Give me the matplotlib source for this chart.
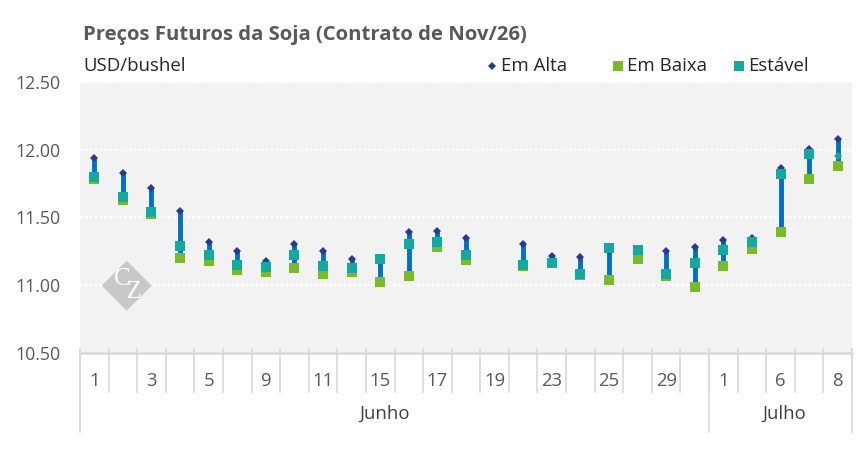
import matplotlib
matplotlib.use("Agg")
import matplotlib.pyplot as plt
import matplotlib.transforms as mtransforms
from matplotlib.lines import Line2D
from matplotlib.patches import Polygon
import numpy as np

plt.rcParams['font.family'] = ['Open Sans', 'DejaVu Sans']

# ---------------- data ----------------
days = [1, 2, 3, 4, 5, 8, 9, 10, 11, 12, 15, 16, 17, 18, 19, 22, 23, 24, 25, 26, 29, 30,
        1, 2, 6, 7, 8]
months = ["Junho", "Julho"]
month_counts = [22, 5]

em_alta = [11.94, 11.83, 11.72, 11.55, 11.32, 11.25, 11.18, 11.30, 11.25, 11.19,
           11.19, 11.39, 11.40, 11.345, np.nan, 11.305, 11.215, 11.21, 11.25, 11.27,
           11.25, 11.28, 11.33, 11.345, 11.865, 12.005, 12.075]
em_baixa = [11.78, 11.63, 11.525, 11.20, 11.175, 11.11, 11.10, 11.13, 11.08, 11.095,
            11.02, 11.07, 11.285, 11.185, np.nan, 11.14, 11.16, 11.075, 11.04, 11.19,
            11.065, 10.985, 11.14, 11.265, 11.395, 11.785, 11.88]
estavel = [11.80, 11.65, 11.54, 11.29, 11.22, 11.15, 11.135, 11.225, 11.145, 11.13,
           11.19, 11.30, 11.32, 11.225, np.nan, 11.15, 11.165, 11.085, 11.275, 11.26,
           11.085, 11.165, 11.26, 11.315, 11.82, 11.965, 11.95]

yticks = [10.5, 11.0, 11.5, 12.0, 12.5]

title = "Preços Futuros da Soja (Contrato de Nov/26)"
unit = "USD/bushel"
series_names = ["Em Alta", "Em Baixa", "Estável"]

# ---------------- styling ----------------
C_BAR = "#0070C0"
C_HIGH = "#2B3990"
C_LOW = "#7AB929"
C_CLOSE = "#14A89E"
C_TXT = "#595959"
C_AX = "#D9D9D9"

W, H = 868, 449
fig = plt.figure(figsize=(W / 100, H / 100), dpi=100)
fig.patch.set_facecolor("white")

def fx(px):
    return px / W

def fy(py):
    return 1 - py / H

left, right, top, bottom = 80, 852, 81.7, 353
ax = fig.add_axes([fx(left), fy(bottom), (right - left) / W, (bottom - top) / H])
ax.set_facecolor("#F2F2F2")

n = len(days)
x = np.arange(n)
hi = np.array(em_alta, dtype=float)
lo = np.array(em_baixa, dtype=float)
cl = np.array(estavel, dtype=float)

ax.set_xlim(-0.5, n - 0.5)
ax.set_ylim(yticks[0], yticks[-1])

# gridlines
for yv in yticks[1:]:
    ax.axhline(yv, color="white", lw=1.6, ls=(0, (1.2, 1.0)), zorder=1)

# watermark logo (pixel coords)
cx, cy, r = 126.7, 285.7, 25
poly = Polygon([(fx(cx - r), fy(cy)), (fx(cx), fy(cy - r)), (fx(cx + r), fy(cy)), (fx(cx), fy(cy + r))],
               closed=True, transform=fig.transFigure, facecolor="#C8C8C8", edgecolor="none", zorder=2)
ax.add_artist(poly)
ax.text(fx(cx + 1), fy(cy), "C\n  Z", transform=fig.transFigure, ha="center", va="center",
        fontsize=18, color="white", family="Liberation Serif", linespacing=0.5,
        multialignment="left", zorder=3)

# high-low bars
valid = ~np.isnan(hi)
top_v = np.fmax(hi, cl)
ax.vlines(x[valid], lo[valid], top_v[valid], color=C_BAR, lw=3.5, zorder=4)

# markers
ax.plot(x, hi, ls="none", marker="D", ms=4.2, color=C_HIGH, mew=0, zorder=5)
ax.plot(x, lo, ls="none", marker="s", ms=7.2, color=C_LOW, mew=0, zorder=6)
ax.plot(x[:-1], cl[:-1], ls="none", marker="s", ms=7.2, color=C_CLOSE, mew=0, zorder=7)
ax.plot(x[-1:], cl[-1:], ls="none", marker="D", ms=4.2, color=C_CLOSE, mew=0, zorder=7)

# axes styling
for s in ["top", "right", "left"]:
    ax.spines[s].set_visible(False)
ax.spines["bottom"].set_color(C_AX)
ax.spines["bottom"].set_linewidth(1.8)
ax.spines["bottom"].set_zorder(8)
ax.set_xticks([])
ax.set_yticks(yticks)
ax.set_yticklabels([f"{v:.2f}" for v in yticks])
ax.tick_params(axis="y", length=0, pad=14, labelsize=12.8, labelcolor=C_TXT)

# category axis (two-level)
trans = mtransforms.blended_transform_factory(ax.transData, ax.transAxes)
ph = bottom - top
def ay(py):
    return (bottom - py) / ph

for b in np.arange(-0.5, n, 1.0):
    ax.plot([b, b], [ay(349), ay(392)], color=C_AX, lw=1.2, transform=trans, clip_on=False, zorder=8)
bounds = np.concatenate([[0], np.cumsum(month_counts)]) - 0.5
for b in bounds:
    ax.plot([b, b], [ay(349), ay(432)], color=C_AX, lw=1.2, transform=trans, clip_on=False, zorder=8)

for i, d in enumerate(days):
    if i % 2 == 0:
        ax.text(i, ay(381), str(d), transform=trans, ha="center", va="center",
                fontsize=13.3, color=C_TXT)
month_shift = [-0.33, 0.14]   # label offset from group centre, in categories
for k, m in enumerate(months):
    ax.text((bounds[k] + bounds[k + 1]) / 2 + month_shift[k], ay(414), m, transform=trans,
            ha="center", va="center", fontsize=13.3, color="#404040")

# titles
fig.text(fx(83), fy(35), title, fontsize=14.6, fontweight="bold", color=C_TXT, va="center", ha="left")
fig.text(fx(83), fy(66), unit, fontsize=13.4, color="#262626", va="center", ha="left")

# legend (manual placement)
leg_y = 66
leg_items = [
    (492, "D", 3.8, C_HIGH),
    (618, "s", 6.8, C_LOW),
    (739, "s", 6.8, C_CLOSE),
]
for (mx, mk, ms, col), name in zip(leg_items, series_names):
    fig.add_artist(Line2D([fx(mx)], [fy(leg_y)], ls="none", marker=mk, ms=ms, color=col,
                          mew=0, transform=fig.transFigure))
    fig.text(fx(mx + 9), fy(leg_y), name, fontsize=13.4, color="#262626", va="center", ha="left")

fig.savefig("out.png", dpi=100, facecolor="white")
